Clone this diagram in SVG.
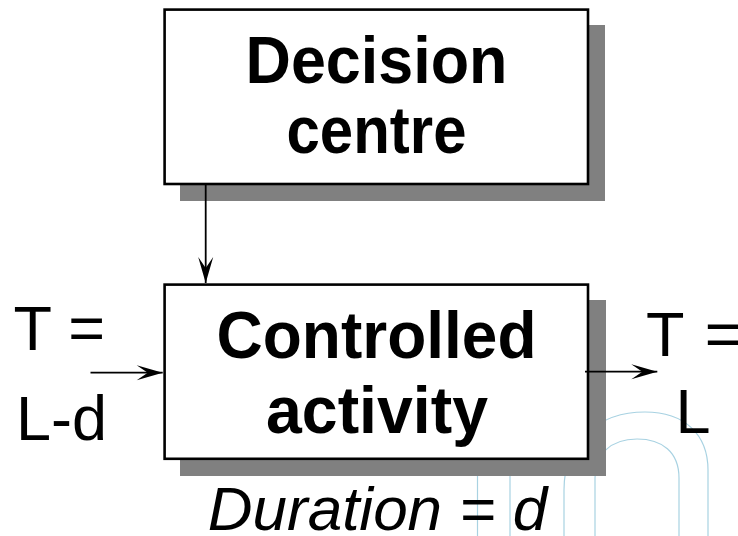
<svg xmlns="http://www.w3.org/2000/svg" width="738" height="536" viewBox="0 0 738 536">
  <style>
    .bg { fill: none; stroke: #a8d2e2; stroke-width: 1.2; }
    .shadow { fill: #808080; }
    .box { fill: #ffffff; stroke: #000000; stroke-width: 2.6; }
    .title { font-family: "Liberation Sans", Arial, sans-serif; font-weight: bold; font-size: 66px; fill: #000; text-anchor: middle; }
    .label { font-family: "Liberation Sans", Arial, sans-serif; font-size: 63px; fill: #000; }
    .note { font-family: "Liberation Sans", Arial, sans-serif; font-style: italic; font-size: 62px; fill: #000; text-anchor: middle; }
    .edge { fill: none; stroke: #000; stroke-width: 1.8; }
  </style>
  <defs>
    <marker id="head" viewBox="-27 -8 28 16" refX="0" refY="0" markerWidth="28" markerHeight="16" markerUnits="userSpaceOnUse" orient="auto">
      <path d="M0,0 L-26,-7.5 L-15,0 L-26,7.5 Z" fill="#000"/>
    </marker>
  </defs>

  <rect width="738" height="536" fill="#ffffff"/>

  <!-- faint background arches -->
  <g id="backdrop">
    <line class="bg" x1="477.5" y1="450" x2="477.5" y2="536"/>
    <line class="bg" x1="510" y1="450" x2="510" y2="536"/>
    <path class="bg" d="M564,536 V490 C564,440 600,412 645,412 C685,412 708,435 708,470 V536"/>
    <path class="bg" d="M595,536 V478 C595,455 610,439 637,439 C662,439 679,452 679,478 V536"/>
  </g>

  <g id="decision-centre">
    <rect class="shadow" x="180" y="25" width="425" height="176"/>
    <rect class="box" x="164.6" y="9.6" width="423.4" height="174.4"/>
    <text class="title" x="376.5" y="83.3" textLength="262" lengthAdjust="spacingAndGlyphs">Decision</text>
    <text class="title" x="376.5" y="153.3" textLength="180" lengthAdjust="spacingAndGlyphs">centre</text>
  </g>

  <g id="controlled-activity">
    <rect class="shadow" x="180" y="300" width="426" height="176"/>
    <rect class="box" x="164.6" y="284.6" width="423.4" height="174.2"/>
    <text class="title" x="376.5" y="358.3" textLength="320" lengthAdjust="spacingAndGlyphs">Controlled</text>
    <text class="title" x="377" y="433.3" textLength="222" lengthAdjust="spacingAndGlyphs">activity</text>
  </g>

  <g id="input-time">
    <text class="label" x="13.5" y="350">T =</text>
    <text class="label" x="16" y="440">L-d</text>
  </g>

  <g id="output-time">
    <text class="label" x="646" y="356">T <tspan dx="4">=</tspan></text>
    <text class="label" x="675.5" y="433">L</text>
  </g>

  <g id="duration">
    <text class="note" x="377.5" y="529.5">Duration = d</text>
  </g>

  <g id="connectors">
    <line class="edge" x1="205.7" y1="185" x2="205.7" y2="283" marker-end="url(#head)"/>
    <line class="edge" x1="90.5" y1="372.7" x2="162.7" y2="372.7" marker-end="url(#head)"/>
    <line class="edge" x1="585" y1="371.7" x2="657.3" y2="371.7" marker-end="url(#head)"/>
  </g>
</svg>
